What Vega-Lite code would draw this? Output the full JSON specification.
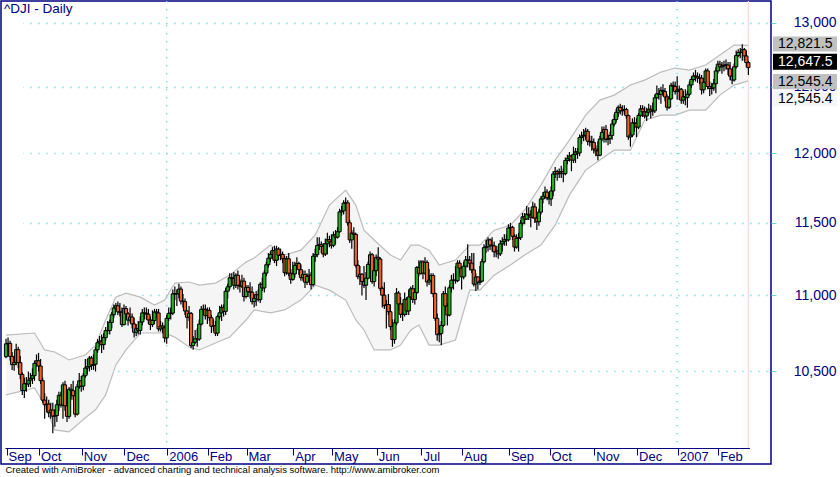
{
"$schema":"https://vega.github.io/schema/vega-lite/v6.json",
"width":770,"height":463,
"autosize":{"type":"none"},
"padding":{"left":1,"top":1,"right":69,"bottom":13},
"background":"white",
"view":{"stroke":"#000080","strokeWidth":1.5,"fill":"white"},
"title":{"text":"^DJI - Daily","anchor":"start","frame":"group","orient":"top","offset":-13,"dy":13,"baseline":"alphabetic","dx":3,"fontSize":13.5,"font":"Liberation Sans","fontWeight":"normal","color":"#000080"},
"config":{"font":"Liberation Sans"},
"datasets":{
"ohlc":[
{"d":"2005-09-09","o":10595,"h":10712,"l":10585,"c":10679},
{"d":"2005-09-12","o":10679,"h":10720,"l":10640,"c":10682},
{"d":"2005-09-13","o":10682,"h":10700,"l":10570,"c":10597},
{"d":"2005-09-14","o":10597,"h":10625,"l":10510,"c":10544},
{"d":"2005-09-15","o":10544,"h":10600,"l":10505,"c":10558},
{"d":"2005-09-16","o":10558,"h":10680,"l":10540,"c":10641},
{"d":"2005-09-19","o":10641,"h":10660,"l":10520,"c":10557},
{"d":"2005-09-20","o":10557,"h":10600,"l":10450,"c":10481},
{"d":"2005-09-21","o":10481,"h":10495,"l":10350,"c":10378},
{"d":"2005-09-22","o":10378,"h":10460,"l":10330,"c":10422},
{"d":"2005-09-23","o":10422,"h":10465,"l":10370,"c":10420},
{"d":"2005-09-26","o":10420,"h":10500,"l":10400,"c":10444},
{"d":"2005-09-27","o":10444,"h":10490,"l":10400,"c":10456},
{"d":"2005-09-28","o":10456,"h":10520,"l":10420,"c":10473},
{"d":"2005-09-29","o":10473,"h":10570,"l":10440,"c":10552},
{"d":"2005-09-30","o":10552,"h":10610,"l":10530,"c":10569},
{"d":"2005-10-03","o":10569,"h":10620,"l":10500,"c":10535},
{"d":"2005-10-04","o":10535,"h":10580,"l":10420,"c":10441},
{"d":"2005-10-05","o":10441,"h":10460,"l":10300,"c":10317},
{"d":"2005-10-06","o":10317,"h":10360,"l":10200,"c":10288},
{"d":"2005-10-07","o":10288,"h":10340,"l":10240,"c":10292},
{"d":"2005-10-10","o":10292,"h":10320,"l":10210,"c":10238},
{"d":"2005-10-11","o":10238,"h":10300,"l":10200,"c":10254},
{"d":"2005-10-12","o":10254,"h":10300,"l":10110,"c":10216},
{"d":"2005-10-13","o":10216,"h":10260,"l":10150,"c":10220},
{"d":"2005-10-14","o":10220,"h":10320,"l":10180,"c":10288},
{"d":"2005-10-17","o":10288,"h":10370,"l":10250,"c":10348},
{"d":"2005-10-18","o":10348,"h":10370,"l":10270,"c":10286},
{"d":"2005-10-19","o":10286,"h":10430,"l":10200,"c":10414},
{"d":"2005-10-20","o":10414,"h":10440,"l":10250,"c":10281},
{"d":"2005-10-21","o":10281,"h":10350,"l":10180,"c":10215},
{"d":"2005-10-24","o":10215,"h":10400,"l":10200,"c":10386},
{"d":"2005-10-25","o":10386,"h":10420,"l":10320,"c":10377},
{"d":"2005-10-26","o":10377,"h":10440,"l":10320,"c":10345},
{"d":"2005-10-27","o":10345,"h":10360,"l":10210,"c":10229},
{"d":"2005-10-28","o":10229,"h":10420,"l":10220,"c":10402},
{"d":"2005-10-31","o":10402,"h":10490,"l":10390,"c":10440},
{"d":"2005-11-01","o":10440,"h":10470,"l":10370,"c":10406},
{"d":"2005-11-02","o":10406,"h":10490,"l":10380,"c":10472},
{"d":"2005-11-03","o":10472,"h":10580,"l":10460,"c":10522},
{"d":"2005-11-04","o":10522,"h":10580,"l":10480,"c":10531},
{"d":"2005-11-07","o":10531,"h":10600,"l":10500,"c":10586},
{"d":"2005-11-08","o":10586,"h":10600,"l":10510,"c":10540},
{"d":"2005-11-09","o":10540,"h":10610,"l":10510,"c":10546},
{"d":"2005-11-10","o":10546,"h":10660,"l":10500,"c":10640},
{"d":"2005-11-11","o":10640,"h":10710,"l":10620,"c":10686},
{"d":"2005-11-14","o":10686,"h":10730,"l":10660,"c":10697},
{"d":"2005-11-15","o":10697,"h":10740,"l":10620,"c":10674},
{"d":"2005-11-16","o":10674,"h":10750,"l":10640,"c":10720},
{"d":"2005-11-17","o":10720,"h":10790,"l":10700,"c":10766},
{"d":"2005-11-18","o":10766,"h":10830,"l":10740,"c":10766},
{"d":"2005-11-21","o":10766,"h":10840,"l":10740,"c":10820},
{"d":"2005-11-22","o":10820,"h":10890,"l":10780,"c":10871},
{"d":"2005-11-23","o":10871,"h":10940,"l":10850,"c":10916},
{"d":"2005-11-25","o":10916,"h":10950,"l":10900,"c":10931},
{"d":"2005-11-28","o":10931,"h":10960,"l":10870,"c":10890},
{"d":"2005-11-29","o":10890,"h":10950,"l":10860,"c":10888},
{"d":"2005-11-30","o":10888,"h":10920,"l":10790,"c":10806},
{"d":"2005-12-01","o":10806,"h":10940,"l":10800,"c":10912},
{"d":"2005-12-02","o":10912,"h":10930,"l":10850,"c":10877},
{"d":"2005-12-05","o":10877,"h":10890,"l":10800,"c":10835},
{"d":"2005-12-06","o":10835,"h":10920,"l":10820,"c":10856},
{"d":"2005-12-07","o":10856,"h":10880,"l":10780,"c":10810},
{"d":"2005-12-08","o":10810,"h":10850,"l":10720,"c":10755},
{"d":"2005-12-09","o":10755,"h":10810,"l":10730,"c":10778},
{"d":"2005-12-12","o":10778,"h":10830,"l":10740,"c":10767},
{"d":"2005-12-13","o":10767,"h":10860,"l":10740,"c":10823},
{"d":"2005-12-14","o":10823,"h":10910,"l":10800,"c":10883},
{"d":"2005-12-15","o":10883,"h":10920,"l":10840,"c":10881},
{"d":"2005-12-16","o":10881,"h":10920,"l":10840,"c":10875},
{"d":"2005-12-19","o":10875,"h":10910,"l":10810,"c":10836},
{"d":"2005-12-20","o":10836,"h":10860,"l":10770,"c":10806},
{"d":"2005-12-21","o":10806,"h":10900,"l":10790,"c":10833},
{"d":"2005-12-22","o":10833,"h":10910,"l":10810,"c":10889},
{"d":"2005-12-23","o":10889,"h":10910,"l":10850,"c":10883},
{"d":"2005-12-27","o":10883,"h":10910,"l":10760,"c":10777},
{"d":"2005-12-28","o":10777,"h":10830,"l":10760,"c":10796},
{"d":"2005-12-29","o":10796,"h":10820,"l":10750,"c":10784},
{"d":"2005-12-30","o":10784,"h":10800,"l":10690,"c":10718},
{"d":"2006-01-03","o":10718,"h":10870,"l":10680,"c":10847},
{"d":"2006-01-04","o":10847,"h":10920,"l":10830,"c":10880},
{"d":"2006-01-05","o":10880,"h":10920,"l":10840,"c":10882},
{"d":"2006-01-06","o":10882,"h":11040,"l":10870,"c":11011},
{"d":"2006-01-09","o":11011,"h":11060,"l":10970,"c":11011},
{"d":"2006-01-10","o":11011,"h":11040,"l":10930,"c":11012},
{"d":"2006-01-11","o":11012,"h":11080,"l":10980,"c":11043},
{"d":"2006-01-12","o":11043,"h":11060,"l":10940,"c":10962},
{"d":"2006-01-13","o":10962,"h":11010,"l":10920,"c":10959},
{"d":"2006-01-17","o":10959,"h":10980,"l":10870,"c":10896},
{"d":"2006-01-18","o":10896,"h":10900,"l":10780,"c":10854},
{"d":"2006-01-19","o":10854,"h":10930,"l":10830,"c":10880},
{"d":"2006-01-20","o":10880,"h":10890,"l":10650,"c":10667},
{"d":"2006-01-23","o":10667,"h":10730,"l":10640,"c":10689},
{"d":"2006-01-24","o":10689,"h":10770,"l":10680,"c":10712},
{"d":"2006-01-25","o":10712,"h":10780,"l":10660,"c":10710},
{"d":"2006-01-26","o":10710,"h":10840,"l":10700,"c":10809},
{"d":"2006-01-27","o":10809,"h":10930,"l":10800,"c":10907},
{"d":"2006-01-30","o":10907,"h":10940,"l":10870,"c":10907},
{"d":"2006-01-31","o":10907,"h":10940,"l":10840,"c":10865},
{"d":"2006-02-01","o":10865,"h":10920,"l":10810,"c":10900},
{"d":"2006-02-02","o":10900,"h":10920,"l":10830,"c":10851},
{"d":"2006-02-03","o":10851,"h":10870,"l":10750,"c":10794},
{"d":"2006-02-06","o":10794,"h":10840,"l":10760,"c":10798},
{"d":"2006-02-07","o":10798,"h":10830,"l":10730,"c":10749},
{"d":"2006-02-08","o":10749,"h":10870,"l":10730,"c":10858},
{"d":"2006-02-09","o":10858,"h":10930,"l":10840,"c":10884},
{"d":"2006-02-10","o":10884,"h":10940,"l":10830,"c":10920},
{"d":"2006-02-13","o":10920,"h":10940,"l":10860,"c":10893},
{"d":"2006-02-14","o":10893,"h":11050,"l":10870,"c":11029},
{"d":"2006-02-15","o":11029,"h":11080,"l":10980,"c":11059},
{"d":"2006-02-16","o":11059,"h":11150,"l":11040,"c":11120},
{"d":"2006-02-17","o":11120,"h":11150,"l":11080,"c":11115},
{"d":"2006-02-21","o":11115,"h":11160,"l":11040,"c":11069},
{"d":"2006-02-22","o":11069,"h":11150,"l":11050,"c":11137},
{"d":"2006-02-23","o":11137,"h":11170,"l":11040,"c":11069},
{"d":"2006-02-24","o":11069,"h":11110,"l":11020,"c":11062},
{"d":"2006-02-27","o":11062,"h":11140,"l":11050,"c":11097},
{"d":"2006-02-28","o":11097,"h":11120,"l":10960,"c":10993},
{"d":"2006-03-01","o":10993,"h":11070,"l":10980,"c":11054},
{"d":"2006-03-02","o":11054,"h":11070,"l":10990,"c":11026},
{"d":"2006-03-03","o":11026,"h":11090,"l":10980,"c":11022},
{"d":"2006-03-06","o":11022,"h":11060,"l":10940,"c":10959},
{"d":"2006-03-07","o":10959,"h":11010,"l":10920,"c":10980},
{"d":"2006-03-08","o":10980,"h":11030,"l":10930,"c":11005},
{"d":"2006-03-09","o":11005,"h":11040,"l":10960,"c":10972},
{"d":"2006-03-10","o":10972,"h":11090,"l":10950,"c":11076},
{"d":"2006-03-13","o":11076,"h":11120,"l":11030,"c":11051},
{"d":"2006-03-14","o":11051,"h":11170,"l":11020,"c":11152},
{"d":"2006-03-15","o":11152,"h":11230,"l":11130,"c":11209},
{"d":"2006-03-16","o":11209,"h":11290,"l":11190,"c":11254},
{"d":"2006-03-17","o":11254,"h":11300,"l":11230,"c":11280},
{"d":"2006-03-20","o":11280,"h":11330,"l":11250,"c":11307},
{"d":"2006-03-21","o":11307,"h":11340,"l":11220,"c":11240},
{"d":"2006-03-22","o":11240,"h":11340,"l":11200,"c":11317},
{"d":"2006-03-23","o":11317,"h":11330,"l":11240,"c":11274},
{"d":"2006-03-24","o":11274,"h":11320,"l":11240,"c":11280},
{"d":"2006-03-27","o":11280,"h":11300,"l":11220,"c":11251},
{"d":"2006-03-28","o":11251,"h":11270,"l":11130,"c":11154},
{"d":"2006-03-29","o":11154,"h":11270,"l":11140,"c":11250},
{"d":"2006-03-30","o":11250,"h":11290,"l":11130,"c":11151},
{"d":"2006-03-31","o":11151,"h":11180,"l":11080,"c":11109},
{"d":"2006-04-03","o":11109,"h":11230,"l":11100,"c":11146},
{"d":"2006-04-04","o":11146,"h":11230,"l":11120,"c":11204},
{"d":"2006-04-05","o":11204,"h":11260,"l":11180,"c":11217},
{"d":"2006-04-06","o":11217,"h":11230,"l":11140,"c":11175},
{"d":"2006-04-07","o":11175,"h":11210,"l":11100,"c":11121},
{"d":"2006-04-10","o":11121,"h":11170,"l":11100,"c":11142},
{"d":"2006-04-11","o":11142,"h":11170,"l":11050,"c":11090},
{"d":"2006-04-12","o":11090,"h":11150,"l":11070,"c":11129},
{"d":"2006-04-13","o":11129,"h":11180,"l":11090,"c":11138},
{"d":"2006-04-17","o":11138,"h":11160,"l":11040,"c":11073},
{"d":"2006-04-18","o":11073,"h":11290,"l":11060,"c":11268},
{"d":"2006-04-19","o":11268,"h":11320,"l":11230,"c":11279},
{"d":"2006-04-20","o":11279,"h":11400,"l":11260,"c":11342},
{"d":"2006-04-21","o":11342,"h":11400,"l":11310,"c":11348},
{"d":"2006-04-24","o":11348,"h":11370,"l":11290,"c":11336},
{"d":"2006-04-25","o":11336,"h":11360,"l":11260,"c":11283},
{"d":"2006-04-26","o":11283,"h":11390,"l":11270,"c":11354},
{"d":"2006-04-27","o":11354,"h":11430,"l":11280,"c":11382},
{"d":"2006-04-28","o":11382,"h":11410,"l":11330,"c":11367},
{"d":"2006-05-01","o":11367,"h":11420,"l":11320,"c":11343},
{"d":"2006-05-02","o":11343,"h":11440,"l":11330,"c":11416},
{"d":"2006-05-03","o":11416,"h":11450,"l":11350,"c":11400},
{"d":"2006-05-04","o":11400,"h":11470,"l":11390,"c":11438},
{"d":"2006-05-05","o":11438,"h":11600,"l":11430,"c":11578},
{"d":"2006-05-08","o":11578,"h":11620,"l":11550,"c":11585},
{"d":"2006-05-09","o":11585,"h":11660,"l":11560,"c":11640},
{"d":"2006-05-10","o":11640,"h":11680,"l":11590,"c":11642},
{"d":"2006-05-11","o":11642,"h":11660,"l":11480,"c":11501},
{"d":"2006-05-12","o":11501,"h":11520,"l":11360,"c":11381},
{"d":"2006-05-15","o":11381,"h":11450,"l":11320,"c":11428},
{"d":"2006-05-16","o":11428,"h":11470,"l":11390,"c":11419},
{"d":"2006-05-17","o":11419,"h":11430,"l":11190,"c":11205},
{"d":"2006-05-18","o":11205,"h":11240,"l":11110,"c":11128},
{"d":"2006-05-19","o":11128,"h":11200,"l":11070,"c":11144},
{"d":"2006-05-22","o":11144,"h":11150,"l":11000,"c":11095},
{"d":"2006-05-23","o":11095,"h":11200,"l":11050,"c":11069},
{"d":"2006-05-24","o":11069,"h":11160,"l":10970,"c":11117},
{"d":"2006-05-25","o":11117,"h":11230,"l":11110,"c":11211},
{"d":"2006-05-26","o":11211,"h":11300,"l":11200,"c":11278},
{"d":"2006-05-30","o":11278,"h":11290,"l":11080,"c":11094},
{"d":"2006-05-31","o":11094,"h":11200,"l":11060,"c":11168},
{"d":"2006-06-01","o":11168,"h":11280,"l":11130,"c":11260},
{"d":"2006-06-02","o":11260,"h":11330,"l":11200,"c":11248},
{"d":"2006-06-05","o":11248,"h":11260,"l":11030,"c":11048},
{"d":"2006-06-06","o":11048,"h":11060,"l":10920,"c":11002},
{"d":"2006-06-07","o":11002,"h":11090,"l":10910,"c":10932},
{"d":"2006-06-08","o":10932,"h":10970,"l":10780,"c":10939},
{"d":"2006-06-09","o":10939,"h":11010,"l":10870,"c":10891},
{"d":"2006-06-12","o":10891,"h":10940,"l":10770,"c":10793},
{"d":"2006-06-13","o":10793,"h":10840,"l":10660,"c":10707},
{"d":"2006-06-14","o":10707,"h":10840,"l":10680,"c":10817},
{"d":"2006-06-15","o":10817,"h":11050,"l":10800,"c":11016},
{"d":"2006-06-16","o":11016,"h":11030,"l":10900,"c":10943},
{"d":"2006-06-19","o":10943,"h":10990,"l":10850,"c":10874},
{"d":"2006-06-20","o":10874,"h":10950,"l":10830,"c":10874},
{"d":"2006-06-21","o":10874,"h":11020,"l":10860,"c":10974},
{"d":"2006-06-22","o":10974,"h":10990,"l":10870,"c":10896},
{"d":"2006-06-23","o":10896,"h":11040,"l":10870,"c":10990},
{"d":"2006-06-26","o":10990,"h":11060,"l":10970,"c":11045},
{"d":"2006-06-27","o":11045,"h":11070,"l":10950,"c":10973},
{"d":"2006-06-28","o":10973,"h":11050,"l":10940,"c":11020},
{"d":"2006-06-29","o":11020,"h":11200,"l":11010,"c":11190},
{"d":"2006-06-30","o":11190,"h":11240,"l":11130,"c":11150},
{"d":"2006-07-03","o":11150,"h":11240,"l":11140,"c":11228},
{"d":"2006-07-05","o":11228,"h":11240,"l":11110,"c":11151},
{"d":"2006-07-06","o":11151,"h":11260,"l":11140,"c":11225},
{"d":"2006-07-07","o":11225,"h":11240,"l":11060,"c":11091},
{"d":"2006-07-10","o":11091,"h":11180,"l":11070,"c":11104},
{"d":"2006-07-11","o":11104,"h":11150,"l":11010,"c":11135},
{"d":"2006-07-12","o":11135,"h":11150,"l":10990,"c":11013},
{"d":"2006-07-13","o":11013,"h":11020,"l":10830,"c":10847},
{"d":"2006-07-14","o":10847,"h":10880,"l":10700,"c":10739},
{"d":"2006-07-17","o":10739,"h":10800,"l":10690,"c":10747},
{"d":"2006-07-18","o":10747,"h":10830,"l":10670,"c":10800},
{"d":"2006-07-19","o":10800,"h":11030,"l":10790,"c":11012},
{"d":"2006-07-20","o":11012,"h":11060,"l":10900,"c":10929},
{"d":"2006-07-21","o":10929,"h":10950,"l":10800,"c":10869},
{"d":"2006-07-24","o":10869,"h":11070,"l":10860,"c":11052},
{"d":"2006-07-25","o":11052,"h":11140,"l":11020,"c":11104},
{"d":"2006-07-26","o":11104,"h":11150,"l":11040,"c":11103},
{"d":"2006-07-27","o":11103,"h":11200,"l":11080,"c":11100},
{"d":"2006-07-28","o":11100,"h":11240,"l":11090,"c":11220},
{"d":"2006-07-31","o":11220,"h":11240,"l":11150,"c":11186},
{"d":"2006-08-01","o":11186,"h":11190,"l":11040,"c":11126},
{"d":"2006-08-02","o":11126,"h":11230,"l":11110,"c":11199},
{"d":"2006-08-03","o":11199,"h":11270,"l":11130,"c":11242},
{"d":"2006-08-04","o":11242,"h":11350,"l":11190,"c":11240},
{"d":"2006-08-07","o":11240,"h":11270,"l":11170,"c":11220},
{"d":"2006-08-08","o":11220,"h":11290,"l":11150,"c":11174},
{"d":"2006-08-09","o":11174,"h":11290,"l":11060,"c":11077},
{"d":"2006-08-10","o":11077,"h":11150,"l":11030,"c":11125},
{"d":"2006-08-11","o":11125,"h":11130,"l":11040,"c":11089},
{"d":"2006-08-14","o":11089,"h":11200,"l":11070,"c":11097},
{"d":"2006-08-15","o":11097,"h":11250,"l":11090,"c":11230},
{"d":"2006-08-16","o":11230,"h":11350,"l":11220,"c":11327},
{"d":"2006-08-17","o":11327,"h":11380,"l":11290,"c":11334},
{"d":"2006-08-18","o":11334,"h":11400,"l":11300,"c":11381},
{"d":"2006-08-21","o":11381,"h":11390,"l":11310,"c":11345},
{"d":"2006-08-22","o":11345,"h":11400,"l":11300,"c":11339},
{"d":"2006-08-23","o":11339,"h":11370,"l":11260,"c":11298},
{"d":"2006-08-24","o":11298,"h":11340,"l":11260,"c":11304},
{"d":"2006-08-25","o":11304,"h":11340,"l":11250,"c":11284},
{"d":"2006-08-28","o":11284,"h":11380,"l":11270,"c":11353},
{"d":"2006-08-29","o":11353,"h":11400,"l":11300,"c":11369},
{"d":"2006-08-30","o":11369,"h":11420,"l":11340,"c":11382},
{"d":"2006-08-31","o":11382,"h":11420,"l":11340,"c":11381},
{"d":"2006-09-01","o":11381,"h":11490,"l":11370,"c":11464},
{"d":"2006-09-05","o":11464,"h":11500,"l":11420,"c":11469},
{"d":"2006-09-06","o":11469,"h":11480,"l":11380,"c":11406},
{"d":"2006-09-07","o":11406,"h":11420,"l":11300,"c":11331},
{"d":"2006-09-08","o":11331,"h":11420,"l":11320,"c":11392},
{"d":"2006-09-11","o":11392,"h":11430,"l":11300,"c":11397},
{"d":"2006-09-12","o":11397,"h":11520,"l":11380,"c":11498},
{"d":"2006-09-13","o":11498,"h":11570,"l":11480,"c":11543},
{"d":"2006-09-14","o":11543,"h":11570,"l":11490,"c":11527},
{"d":"2006-09-15","o":11527,"h":11620,"l":11520,"c":11561},
{"d":"2006-09-18","o":11561,"h":11610,"l":11520,"c":11555},
{"d":"2006-09-19","o":11555,"h":11590,"l":11470,"c":11540},
{"d":"2006-09-20","o":11540,"h":11650,"l":11530,"c":11613},
{"d":"2006-09-21","o":11613,"h":11640,"l":11500,"c":11534},
{"d":"2006-09-22","o":11534,"h":11550,"l":11450,"c":11508},
{"d":"2006-09-25","o":11508,"h":11600,"l":11480,"c":11576},
{"d":"2006-09-26","o":11576,"h":11690,"l":11560,"c":11670},
{"d":"2006-09-27","o":11670,"h":11720,"l":11640,"c":11689},
{"d":"2006-09-28","o":11689,"h":11760,"l":11670,"c":11719},
{"d":"2006-09-29","o":11719,"h":11740,"l":11660,"c":11679},
{"d":"2006-10-02","o":11679,"h":11720,"l":11630,"c":11670},
{"d":"2006-10-03","o":11670,"h":11760,"l":11620,"c":11727},
{"d":"2006-10-04","o":11727,"h":11870,"l":11690,"c":11850},
{"d":"2006-10-05","o":11850,"h":11900,"l":11820,"c":11867},
{"d":"2006-10-06","o":11867,"h":11880,"l":11800,"c":11851},
{"d":"2006-10-09","o":11851,"h":11890,"l":11820,"c":11857},
{"d":"2006-10-10","o":11857,"h":11910,"l":11820,"c":11867},
{"d":"2006-10-11","o":11867,"h":11890,"l":11790,"c":11852},
{"d":"2006-10-12","o":11852,"h":11970,"l":11840,"c":11948},
{"d":"2006-10-13","o":11948,"h":11990,"l":11920,"c":11961},
{"d":"2006-10-16","o":11961,"h":12010,"l":11940,"c":11981},
{"d":"2006-10-17","o":11981,"h":11990,"l":11870,"c":11951},
{"d":"2006-10-18","o":11951,"h":12050,"l":11930,"c":11993},
{"d":"2006-10-19","o":11993,"h":12040,"l":11930,"c":12012},
{"d":"2006-10-20","o":12012,"h":12040,"l":11960,"c":12003},
{"d":"2006-10-23","o":12003,"h":12140,"l":11980,"c":12117},
{"d":"2006-10-24","o":12117,"h":12160,"l":12070,"c":12128},
{"d":"2006-10-25","o":12128,"h":12180,"l":12090,"c":12134},
{"d":"2006-10-26","o":12134,"h":12190,"l":12100,"c":12164},
{"d":"2006-10-27","o":12164,"h":12180,"l":12060,"c":12090},
{"d":"2006-10-30","o":12090,"h":12130,"l":12050,"c":12087},
{"d":"2006-10-31","o":12087,"h":12130,"l":12020,"c":12081},
{"d":"2006-11-01","o":12081,"h":12110,"l":12000,"c":12032},
{"d":"2006-11-02","o":12032,"h":12060,"l":11980,"c":12019},
{"d":"2006-11-03","o":12019,"h":12090,"l":11950,"c":11987},
{"d":"2006-11-06","o":11987,"h":12130,"l":11980,"c":12106},
{"d":"2006-11-07","o":12106,"h":12200,"l":12090,"c":12156},
{"d":"2006-11-08","o":12156,"h":12200,"l":12080,"c":12177},
{"d":"2006-11-09","o":12177,"h":12210,"l":12080,"c":12104},
{"d":"2006-11-10","o":12104,"h":12140,"l":12060,"c":12109},
{"d":"2006-11-13","o":12109,"h":12160,"l":12070,"c":12132},
{"d":"2006-11-14","o":12132,"h":12250,"l":12100,"c":12218},
{"d":"2006-11-15","o":12218,"h":12290,"l":12200,"c":12252},
{"d":"2006-11-16","o":12252,"h":12330,"l":12230,"c":12306},
{"d":"2006-11-17","o":12306,"h":12360,"l":12270,"c":12343},
{"d":"2006-11-20","o":12343,"h":12370,"l":12290,"c":12317},
{"d":"2006-11-21","o":12317,"h":12360,"l":12280,"c":12322},
{"d":"2006-11-22","o":12322,"h":12360,"l":12290,"c":12327},
{"d":"2006-11-24","o":12327,"h":12340,"l":12260,"c":12281},
{"d":"2006-11-27","o":12281,"h":12290,"l":12100,"c":12122},
{"d":"2006-11-28","o":12122,"h":12160,"l":12050,"c":12136},
{"d":"2006-11-29","o":12136,"h":12260,"l":12120,"c":12227},
{"d":"2006-11-30","o":12227,"h":12270,"l":12160,"c":12222},
{"d":"2006-12-01","o":12222,"h":12260,"l":12120,"c":12195},
{"d":"2006-12-04","o":12195,"h":12300,"l":12180,"c":12283},
{"d":"2006-12-05","o":12283,"h":12360,"l":12270,"c":12332},
{"d":"2006-12-06","o":12332,"h":12360,"l":12270,"c":12310},
{"d":"2006-12-07","o":12310,"h":12350,"l":12260,"c":12278},
{"d":"2006-12-08","o":12278,"h":12340,"l":12240,"c":12307},
{"d":"2006-12-11","o":12307,"h":12370,"l":12290,"c":12329},
{"d":"2006-12-12","o":12329,"h":12360,"l":12260,"c":12316},
{"d":"2006-12-13","o":12316,"h":12380,"l":12280,"c":12317},
{"d":"2006-12-14","o":12317,"h":12440,"l":12300,"c":12416},
{"d":"2006-12-15","o":12416,"h":12510,"l":12410,"c":12446},
{"d":"2006-12-18","o":12446,"h":12490,"l":12400,"c":12442},
{"d":"2006-12-19","o":12442,"h":12500,"l":12370,"c":12472},
{"d":"2006-12-20","o":12472,"h":12520,"l":12430,"c":12464},
{"d":"2006-12-21","o":12464,"h":12490,"l":12390,"c":12422},
{"d":"2006-12-22","o":12422,"h":12440,"l":12320,"c":12344},
{"d":"2006-12-26","o":12344,"h":12430,"l":12330,"c":12408},
{"d":"2006-12-27","o":12408,"h":12530,"l":12400,"c":12511},
{"d":"2006-12-28","o":12511,"h":12540,"l":12470,"c":12502},
{"d":"2006-12-29","o":12502,"h":12540,"l":12440,"c":12463},
{"d":"2007-01-03","o":12463,"h":12580,"l":12400,"c":12474},
{"d":"2007-01-04","o":12474,"h":12510,"l":12400,"c":12481},
{"d":"2007-01-05","o":12481,"h":12490,"l":12370,"c":12398},
{"d":"2007-01-08","o":12398,"h":12470,"l":12370,"c":12424},
{"d":"2007-01-09","o":12424,"h":12480,"l":12360,"c":12417},
{"d":"2007-01-10","o":12417,"h":12470,"l":12340,"c":12443},
{"d":"2007-01-11","o":12443,"h":12540,"l":12430,"c":12514},
{"d":"2007-01-12","o":12514,"h":12580,"l":12490,"c":12556},
{"d":"2007-01-16","o":12556,"h":12610,"l":12540,"c":12583},
{"d":"2007-01-17","o":12583,"h":12630,"l":12540,"c":12577},
{"d":"2007-01-18","o":12577,"h":12610,"l":12530,"c":12567},
{"d":"2007-01-19","o":12567,"h":12600,"l":12520,"c":12566},
{"d":"2007-01-22","o":12566,"h":12590,"l":12440,"c":12477},
{"d":"2007-01-23","o":12477,"h":12570,"l":12450,"c":12534},
{"d":"2007-01-24","o":12534,"h":12640,"l":12520,"c":12622},
{"d":"2007-01-25","o":12622,"h":12640,"l":12480,"c":12502},
{"d":"2007-01-26","o":12502,"h":12540,"l":12430,"c":12487},
{"d":"2007-01-29","o":12487,"h":12530,"l":12440,"c":12491},
{"d":"2007-01-30","o":12491,"h":12560,"l":12470,"c":12523},
{"d":"2007-01-31","o":12523,"h":12650,"l":12450,"c":12622},
{"d":"2007-02-01","o":12622,"h":12700,"l":12600,"c":12674},
{"d":"2007-02-02","o":12674,"h":12700,"l":12620,"c":12653},
{"d":"2007-02-05","o":12653,"h":12690,"l":12600,"c":12661},
{"d":"2007-02-06","o":12661,"h":12700,"l":12620,"c":12667},
{"d":"2007-02-07","o":12667,"h":12710,"l":12630,"c":12667},
{"d":"2007-02-08","o":12667,"h":12690,"l":12590,"c":12638},
{"d":"2007-02-09","o":12638,"h":12690,"l":12550,"c":12581},
{"d":"2007-02-12","o":12581,"h":12600,"l":12520,"c":12552},
{"d":"2007-02-13","o":12552,"h":12680,"l":12540,"c":12654},
{"d":"2007-02-14","o":12654,"h":12780,"l":12640,"c":12741},
{"d":"2007-02-15","o":12741,"h":12790,"l":12730,"c":12765},
{"d":"2007-02-16","o":12765,"h":12800,"l":12720,"c":12768},
{"d":"2007-02-20","o":12768,"h":12830,"l":12700,"c":12787},
{"d":"2007-02-21","o":12787,"h":12800,"l":12700,"c":12738},
{"d":"2007-02-22","o":12738,"h":12780,"l":12650,"c":12686},
{"d":"2007-02-23","o":12686,"h":12700,"l":12590,"c":12647.5}
],
"band":[
{"d":"2005-09-09","u":10736,"lo":10350},
{"d":"2005-09-29","u":10750,"lo":10395},
{"d":"2005-10-06","u":10639,"lo":10287},
{"d":"2005-10-13","u":10626,"lo":10131},
{"d":"2005-10-24","u":10574,"lo":10118},
{"d":"2005-11-03","u":10606,"lo":10206},
{"d":"2005-11-10","u":10671,"lo":10256},
{"d":"2005-11-17","u":10836,"lo":10350},
{"d":"2005-11-25","u":10989,"lo":10542},
{"d":"2005-12-02","u":11016,"lo":10639},
{"d":"2005-12-13","u":10989,"lo":10750},
{"d":"2005-12-22","u":10936,"lo":10750},
{"d":"2005-12-30","u":10969,"lo":10750},
{"d":"2006-01-09","u":11084,"lo":10723},
{"d":"2006-01-19","u":11091,"lo":10658},
{"d":"2006-01-26","u":11070,"lo":10639},
{"d":"2006-02-07","u":11084,"lo":10684},
{"d":"2006-02-16","u":11138,"lo":10723},
{"d":"2006-03-01","u":11227,"lo":10836},
{"d":"2006-03-07","u":11255,"lo":10903},
{"d":"2006-03-17","u":11345,"lo":10883},
{"d":"2006-03-28","u":11276,"lo":10903},
{"d":"2006-04-07","u":11310,"lo":10969},
{"d":"2006-04-19","u":11414,"lo":11070},
{"d":"2006-04-28","u":11626,"lo":11036},
{"d":"2006-05-10","u":11733,"lo":10969},
{"d":"2006-05-17","u":11626,"lo":10836},
{"d":"2006-05-23","u":11449,"lo":10770},
{"d":"2006-05-31","u":11380,"lo":10639},
{"d":"2006-06-12","u":11276,"lo":10639},
{"d":"2006-06-19","u":11241,"lo":10671},
{"d":"2006-06-26","u":11345,"lo":10770},
{"d":"2006-06-30","u":11345,"lo":10803},
{"d":"2006-07-10","u":11310,"lo":10671},
{"d":"2006-07-17","u":11207,"lo":10671},
{"d":"2006-07-27","u":11241,"lo":10704},
{"d":"2006-08-07","u":11345,"lo":11036},
{"d":"2006-08-14","u":11345,"lo":11036},
{"d":"2006-08-23","u":11449,"lo":11138},
{"d":"2006-09-05","u":11484,"lo":11207},
{"d":"2006-09-14","u":11591,"lo":11276},
{"d":"2006-09-26","u":11769,"lo":11345},
{"d":"2006-10-05","u":11951,"lo":11484},
{"d":"2006-10-16","u":12098,"lo":11697},
{"d":"2006-10-26","u":12285,"lo":11878},
{"d":"2006-11-06","u":12398,"lo":11951},
{"d":"2006-11-15","u":12436,"lo":12024},
{"d":"2006-11-28","u":12513,"lo":12024},
{"d":"2006-12-07","u":12551,"lo":12247},
{"d":"2006-12-19","u":12613,"lo":12285},
{"d":"2006-12-29","u":12644,"lo":12285},
{"d":"2007-01-11","u":12628,"lo":12322},
{"d":"2007-01-24","u":12667,"lo":12322},
{"d":"2007-02-02","u":12745,"lo":12436},
{"d":"2007-02-13","u":12823,"lo":12513},
{"d":"2007-02-23","u":12821.5,"lo":12545.4}
],
"years":[{"d":"2006-01-03"},{"d":"2007-01-03"}],
"last":[{"d":"2007-02-23"}],
"tags":[{"n":"upper","v":12821.5},{"n":"close","v":12647.5},{"n":"lower","v":12545.4},{"n":"lower2","v":12545.4}]
},
"layer":[
{"data":{"name":"band"},
 "mark":{"type":"area","fill":"#f5f5f5","interpolate":"linear"},
 "encoding":{
  "x":{"field":"d","type":"ordinal","scale":{"type":"band","range":[4,748.4],"paddingInner":0,"paddingOuter":0},
   "axis":{"orient":"bottom","offset":-16,"values":["2005-09-09","2005-10-03","2005-11-01","2005-12-01","2006-01-03","2006-02-01","2006-03-01","2006-04-03","2006-05-01","2006-06-01","2006-07-03","2006-08-01","2006-09-01","2006-10-02","2006-11-01","2006-12-01","2007-01-03","2007-02-01"],
    "labelExpr":"substring(datum.value,5,7)=='01' ? substring(datum.value,0,4) : ['Jan','Feb','Mar','Apr','May','Jun','Jul','Aug','Sep','Oct','Nov','Dec'][toNumber(substring(datum.value,5,7))-1]",
    "bandPosition":1,"labelAngle":0,"labelAlign":"left","labelBaseline":"alphabetic","labelPadding":5.5,"labelOffset":2.5,"labelFontSize":13,"labelFont":"Liberation Sans","labelColor":"#000080","labelOverlap":false,"labelFlush":false,
    "tickColor":"#000080","tickSize":7,"tickWidth":1,"domainColor":"#000080","domainWidth":1.2,"grid":false,
    "title":"Created with AmiBroker - advanced charting and technical analysis software. http://www.amibroker.com",
    "titleX":4,"titleY":24,"titleAlign":"left","titleAnchor":"start","titleBaseline":"alphabetic","titleFontSize":9.5,"titleFontWeight":"normal","titleFont":"Liberation Sans","titleColor":"black"}},
  "y":{"field":"u","type":"quantitative","title":null,"scale":{"type":"log","domain":[10019,13174],"range":[447,0],"nice":false,"zero":false},
   "axis":{"orient":"right","values":[10500,11000,11500,12000,12500,13000],"format":",.0f","labelFontSize":14,"labelFont":"Liberation Sans","labelColor":"#000080","labelPadding":60,"labelAlign":"right","labelBaseline":"middle","tickColor":"#60dce4","tickSize":5,"domain":false,"grid":true,"gridColor":"#60dce4","gridDash":[1.3,6.7],"gridWidth":1.3,"title":null}},
  "y2":{"field":"lo"}
 }},
{"data":{"name":"band"},
 "mark":{"type":"line","stroke":"#bcbcbc","strokeWidth":1.2},
 "encoding":{"x":{"field":"d","type":"ordinal"},"y":{"field":"u","type":"quantitative","title":null}}},
{"data":{"name":"band"},
 "mark":{"type":"line","stroke":"#bcbcbc","strokeWidth":1.2},
 "encoding":{"x":{"field":"d","type":"ordinal"},"y":{"field":"lo","type":"quantitative","title":null}}},
{"data":{"name":"years"},
 "mark":{"type":"rule","stroke":"#60dce4","strokeDash":[1.3,6.7],"strokeWidth":1.3},
 "encoding":{"x":{"field":"d","type":"ordinal"},"y":{"datum":13174,"type":"quantitative"},"y2":{"datum":10019}}},
{"data":{"name":"last"},
 "mark":{"type":"rule","stroke":"#ffd8d8","strokeWidth":1.2},
 "encoding":{"x":{"field":"d","type":"ordinal"},"y":{"datum":13174,"type":"quantitative"},"y2":{"datum":10019}}},
{"data":{"name":"ohlc"},
 "mark":{"type":"rule","stroke":"black","strokeWidth":1.2},
 "encoding":{"x":{"field":"d","type":"ordinal"},"y":{"field":"l","type":"quantitative","title":null},"y2":{"field":"h"}}},
{"data":{"name":"ohlc"},
 "mark":{"type":"bar","width":3.2,"stroke":"black","strokeWidth":1},
 "encoding":{"x":{"field":"d","type":"ordinal"},"y":{"field":"o","type":"quantitative","title":null},"y2":{"field":"c"},
  "fill":{"condition":{"test":"datum.c >= datum.o","value":"#22b422"},"value":"#f0602a"}}},
{"data":{"name":"tags"},"transform":[{"filter":"datum.n=='upper'"}],
 "layer":[
  {"mark":{"type":"rect","x":{"expr":"width+2"},"x2":{"expr":"width+66"},"yOffset":-8.8,"y2Offset":6.2,"fill":"#c0c0c0"},
   "encoding":{"y":{"field":"v","type":"quantitative","title":null},"y2":{"field":"v"}}},
  {"mark":{"type":"text","x":{"expr":"width+7"},"yOffset":-1.3,"align":"left","baseline":"middle","fontSize":14,"font":"Liberation Sans","fill":"black"},
   "encoding":{"y":{"field":"v","type":"quantitative","title":null},"text":{"field":"v","type":"quantitative","format":",.1f"}}}]},
{"data":{"name":"tags"},"transform":[{"filter":"datum.n=='close'"}],
 "layer":[
  {"mark":{"type":"rect","x":{"expr":"width+2"},"x2":{"expr":"width+66"},"yOffset":-13.8,"y2Offset":2.2,"fill":"black"},
   "encoding":{"y":{"field":"v","type":"quantitative","title":null},"y2":{"field":"v"}}},
  {"mark":{"type":"text","x":{"expr":"width+7"},"yOffset":-5.9,"align":"left","baseline":"middle","fontSize":14,"font":"Liberation Sans","fill":"white"},
   "encoding":{"y":{"field":"v","type":"quantitative","title":null},"text":{"field":"v","type":"quantitative","format":",.1f"}}}]},
{"data":{"name":"tags"},"transform":[{"filter":"datum.n=='lower'"}],
 "layer":[
  {"mark":{"type":"rect","x":{"expr":"width+2"},"x2":{"expr":"width+66"},"yOffset":-6.8,"y2Offset":8.5,"fill":"#c0c0c0"},
   "encoding":{"y":{"field":"v","type":"quantitative","title":null},"y2":{"field":"v"}}},
  {"mark":{"type":"text","x":{"expr":"width+7"},"yOffset":0.9,"align":"left","baseline":"middle","fontSize":14,"font":"Liberation Sans","fill":"black"},
   "encoding":{"y":{"field":"v","type":"quantitative","title":null},"text":{"field":"v","type":"quantitative","format":",.1f"}}}]},
{"data":{"name":"tags"},"transform":[{"filter":"datum.n=='lower2'"}],
 "layer":[
  {"mark":{"type":"rect","x":{"expr":"width+2"},"x2":{"expr":"width+66"},"yOffset":10.5,"y2Offset":25.5,"fill":"#f6f6f6"},
   "encoding":{"y":{"field":"v","type":"quantitative","title":null},"y2":{"field":"v"}}},
  {"mark":{"type":"text","x":{"expr":"width+7"},"yOffset":18.2,"align":"left","baseline":"middle","fontSize":14,"font":"Liberation Sans","fill":"black"},
   "encoding":{"y":{"field":"v","type":"quantitative","title":null},"text":{"field":"v","type":"quantitative","format":",.1f"}}}]}
]
}
